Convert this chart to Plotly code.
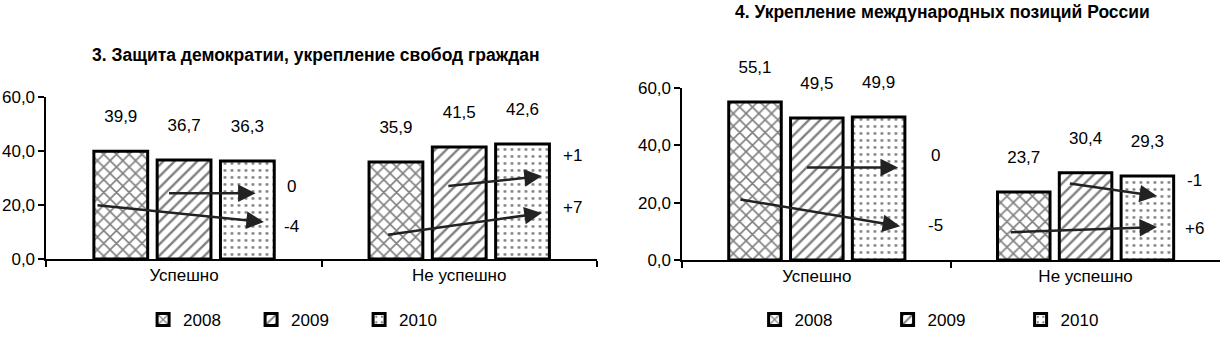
import plotly.graph_objects as go
from plotly.subplots import make_subplots

categories = ["Успешно", "Не успешно"]
years = ["2008", "2009", "2010"]
title_left = "3. Защита демократии, укрепление свобод граждан"
title_right = "4. Укрепление международных позиций России"

left_2008 = [39.9, 35.9]
left_2009 = [36.7, 41.5]
left_2010 = [36.3, 42.6]
right_2008 = [55.1, 23.7]
right_2009 = [49.5, 30.4]
right_2010 = [49.9, 29.3]

left_changes = ["0", "-4", "+1", "+7"]
right_changes = ["0", "-5", "-1", "+6"]

tick_vals = [0, 20, 40, 60]

FONT = "Liberation Sans, Arial, sans-serif"
patterns = {"2008": dict(shape="x", size=9, solidity=0.32),
            "2009": dict(shape="/", size=8, solidity=0.3),
            "2010": dict(shape=".", size=7, solidity=0.14)}

fig = make_subplots(rows=1, cols=2)

left_series = [left_2008, left_2009, left_2010]
right_series = [right_2008, right_2009, right_2010]
for col, series, leg in [(1, left_series, "legend"), (2, right_series, "legend2")]:
    for yr, vals in zip(years, series):
        p = patterns[yr]
        fig.add_trace(go.Bar(
            x=categories, y=vals, name=yr, legend=leg,
            marker=dict(color="white", line=dict(color="black", width=3),
                        pattern=dict(shape=p["shape"], size=p["size"], solidity=p["solidity"],
                                     fgcolor="black", bgcolor="white", fillmode="overlay")),
            texttemplate="%{y:.1f}<br> ",
            textposition="outside",
            textfont=dict(size=17, color="black", family=FONT),
            constraintext="none", cliponaxis=False,
        ), row=1, col=col)

fig.update_layout(
    width=1223, height=338, margin=dict(l=0, r=0, t=0, b=0, autoexpand=False),
    paper_bgcolor="white", plot_bgcolor="white",
    separators=",.", barmode="group", bargap=0.31, bargroupgap=0.15,
    font=dict(family=FONT, size=16, color="black"),
    showlegend=True,
    legend=dict(orientation="h", x=0.117, xanchor="left", y=0.0, yanchor="bottom",
                entrywidth=63, entrywidthmode="pixels", font=dict(size=17), itemwidth=30,
                bgcolor="rgba(0,0,0,0)"),
    legend2=dict(orientation="h", x=0.617, xanchor="left", y=0.0, yanchor="bottom",
                 entrywidth=88, entrywidthmode="pixels", font=dict(size=17), itemwidth=30,
                 bgcolor="rgba(0,0,0,0)"),
)

axis_common = dict(showline=True, linecolor="black", linewidth=2, ticks="outside",
                   ticklen=6, tickwidth=2, tickcolor="black", showgrid=False, zeroline=False)
fig.update_xaxes(domain=[0.038, 0.488], row=1, col=1, tickson="boundaries",
                 tickfont=dict(size=17), **axis_common)
fig.update_xaxes(domain=[0.558, 0.9975], row=1, col=2, tickson="boundaries",
                 tickfont=dict(size=17), **axis_common)
fig.update_yaxes(range=[0, 60], tickvals=tick_vals, tickformat=".1f", row=1, col=1,
                 tickfont=dict(size=17), **axis_common)
fig.update_yaxes(range=[0, 60], tickvals=tick_vals, tickformat=".1f", row=1, col=2,
                 tickfont=dict(size=17), **axis_common)
fig.update_layout(yaxis=dict(domain=[0.2337, 0.713]), yaxis2=dict(domain=[0.2308, 0.7396]))

# titles
fig.add_annotation(text="<b>" + title_left + "</b>", xref="paper", yref="paper",
                   x=0.258, y=1 - 55 / 338, showarrow=False, font=dict(size=17.5, family=FONT),
                   xanchor="center", yanchor="middle")
fig.add_annotation(text="<b>" + title_right + "</b>", xref="paper", yref="paper",
                   x=0.771, y=1 - 12 / 338, showarrow=False, font=dict(size=17.5, family=FONT),
                   xanchor="center", yanchor="middle")

# trend arrows (tail -> head in category/value coordinates) and change labels
arrows_left = [((-0.06, 24.4), (0.26, 24.4), (0.39, 27.0)),
               ((-0.32, 20.0), (0.29, 13.7), (0.39, 12.0)),
               ((0.955, 27.0), (1.30, 30.7), (1.41, 38.5)),
               ((0.736, 8.9), (1.30, 17.0), (1.41, 18.9))]
arrows_right = [((-0.042, 32.3), (0.302, 32.3), (0.44, 36.5)),
                ((-0.29, 21.2), (0.31, 11.8), (0.44, 12.2)),
                ((0.936, 26.8), (1.266, 22.3), (1.405, 27.8)),
                ((0.716, 9.7), (1.266, 11.5), (1.405, 11.1))]

for (xr, yr, arrows, labels) in [("x", "y", arrows_left, left_changes),
                                 ("x2", "y2", arrows_right, right_changes)]:
    for (tail, head, lab), txt in zip(arrows, labels):
        fig.add_annotation(x=head[0], y=head[1], ax=tail[0], ay=tail[1],
                           xref=xr, yref=yr, axref=xr, ayref=yr, text="",
                           showarrow=True, arrowhead=2, arrowsize=1.4, arrowwidth=2.5,
                           arrowcolor="#222222")
        fig.add_annotation(x=lab[0], y=lab[1], xref=xr, yref=yr, text=txt,
                           showarrow=False, font=dict(size=17, family=FONT),
                           xanchor="center", yanchor="middle")

fig.write_html("out.html", config={"displayModeBar": False},
               post_script="document.body.style.margin='0';")
